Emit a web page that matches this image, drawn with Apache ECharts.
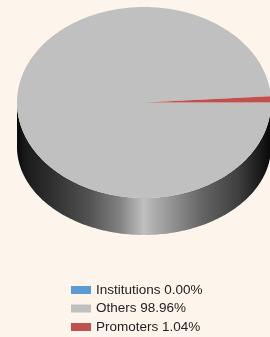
<!DOCTYPE html>
<html>
<head>
<meta charset="utf-8">
<script src="https://cdn.jsdelivr.net/npm/echarts@6/dist/echarts.min.js"></script>
<style>
  html, body { margin: 0; padding: 0; background: #fdf5ec; }
  #main { width: 270px; height: 337px; }
</style>
</head>
<body>
<div id="main"></div>
<script>
// data
var categories = ["Institutions", "Others", "Promoters"];
var values = [0, 98.96, 1.04];
var colors = ["#5b9bd5", "#c0c0c0", "#c0504d"];

// pie geometry (top face and bottom face ellipses, perspective look)
var top_ = { cx: 144, cy: 102.5, rx: 127, ry: 95.5 };
var bot_ = { cx: 144, cy: 147, rx: 127, ry: 88 };
// side light along x: [offset, brightness]
var shadeStops = [[0, 0.04], [0.03, 0.13], [0.14, 0.25], [0.28, 0.42], [0.4, 0.66], [0.47, 0.9], [0.5, 1], [0.53, 0.92], [0.6, 0.78], [0.73, 0.52], [0.87, 0.33], [0.94, 0.17], [1, 0.04]];

var total = values.reduce(function(a, b) { return a + b; }, 0);

function shade(hex, f) {
  var n = parseInt(hex.slice(1), 16);
  var r = Math.round(((n >> 16) & 255) * f),
    g = Math.round(((n >> 8) & 255) * f),
    b = Math.round((n & 255) * f);
  return "rgb(" + r + "," + g + "," + b + ")";
}

function arc(e, a0, a1) {
  var pts = [];
  var steps = Math.max(2, Math.ceil((a1 - a0) * 60));
  for (var k = 0; k <= steps; k++) {
    var a = a0 + (a1 - a0) * k / steps;
    pts.push([e.cx + e.rx * Math.cos(a), e.cy + e.ry * Math.sin(a)]);
  }
  return pts;
}

function renderSlice(idx) {
  return function(params, api) {
    var start = 0;
    for (var j = 0; j < idx; j++) start += values[j];
    var a0 = start / total * Math.PI * 2;
    var a1 = (start + api.value(0)) / total * Math.PI * 2;
    var children = [];
    if (a1 <= a0) return { type: "group", children: children };
    // side wall (front half only)
    var s0 = Math.max(a0, 0), s1 = Math.min(a1, Math.PI);
    if (s1 > s0) {
      var pts = arc(top_, s0, s1).concat(arc(bot_, s0, s1).reverse());
      var stops = shadeStops.map(function(s) {
        return { offset: s[0], color: shade(colors[idx], s[1]) };
      });
      children.push({
        type: "polygon",
        z2: 1,
        shape: { points: pts },
        style: {
          fill: new echarts.graphic.LinearGradient(top_.cx - top_.rx, 0, top_.cx + top_.rx, 0, stops, true)
        }
      });
    }
    // top face
    children.push({
      type: "polygon",
      z2: 10,
      shape: { points: [[top_.cx, top_.cy]].concat(arc(top_, a0, a1)) },
      style: { fill: colors[idx] }
    });
    return { type: "group", children: children };
  };
}

var series = [];
for (var i = 0; i < categories.length; i++) {
  series.push({
    name: categories[i],
    type: "custom",
    coordinateSystem: "none",
    itemStyle: { color: colors[i] },
    renderItem: renderSlice(i),
    data: [[values[i]]],
    silent: true
  });
}

var myChart = echarts.init(document.getElementById("main"));
var option = {
  backgroundColor: "#fdf5ec",
  animation: false,
  legend: {
    orient: "vertical",
    left: 71,
    top: 283,
    padding: 0,
    icon: "rect",
    itemWidth: 20,
    itemHeight: 8,
    itemGap: 4.5,
    data: categories,
    formatter: function(name) {
      var v = values[categories.indexOf(name)];
      return name + " " + (v / total * 100).toFixed(2) + "%";
    },
    textStyle: {
      color: "#222",
      fontSize: 13.5,
      lineHeight: 13,
      fontFamily: "Liberation Sans"
    }
  },
  series: series
};
myChart.setOption(option);
</script>
</body>
</html>
